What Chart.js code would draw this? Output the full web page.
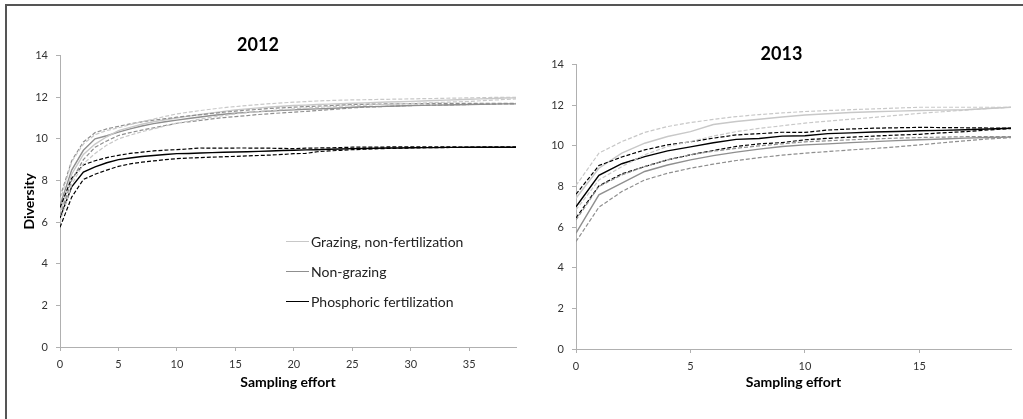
<!DOCTYPE html>
<html>
<head>
<meta charset="utf-8">
<script src="https://cdn.jsdelivr.net/npm/chart.js@4.4.1/dist/chart.umd.min.js"></script>
<style>
  body { margin:0; background:#fff; width:1023px; height:419px; overflow:hidden; position:relative; font-family:Lato, sans-serif; }
  #marco { position:absolute; left:5px; top:4px; width:1040px; height:440px; border-left:2px solid #555; border-top:2px solid #555; }
  #c2012 { position:absolute; left:0; top:0; }
  #c2013 { position:absolute; left:552px; top:0; }
  #leyenda { position:absolute; left:286px; top:226px; font-size:14px; color:#222; }
  .item { height:30px; display:flex; align-items:center; white-space:nowrap; }
  .raya { width:23px; height:0; border-top:1.5px solid #000; margin-right:2px; }
</style>
</head>
<body>
<div id="marco"></div>
<canvas id="c2012" width="552" height="419"></canvas>
<canvas id="c2013" width="470" height="419"></canvas>
<div id="leyenda"></div>

<script>
// ---- datos
const tratamientos = ["Grazing, non-fertilization", "Non-grazing", "Phosphoric fertilization"];
const colores = ["#c8c8c8", "#8f8f8f", "#000000"];

const esfuerzo2012 = [0,1,2,3,4,5,6,7,8,9,10,11,12,13,14,15,16,17,18,19,20,21,22,23,24,25,26,27,28,29,30,31,32,33,34,35,36,37,38,39];
const esfuerzo2013 = [0,1,2,3,4,5,6,7,8,9,10,11,12,13,14,15,16,17,18,19];

// 2012
const pastoreo2012 = [6.5,8.3,9.25,9.75,10.1,10.4,10.55,10.7,10.82,10.92,11.0,11.09,11.17,11.25,11.32,11.39,11.44,11.49,11.53,11.57,11.6,11.62,11.65,11.67,11.69,11.71,11.73,11.75,11.77,11.78,11.8,11.82,11.84,11.86,11.88,11.9,11.92,11.94,11.96,11.97];
const pastoreo2012Sup = [7.0,8.9,9.75,10.2,10.4,10.53,10.68,10.82,10.95,11.08,11.2,11.28,11.36,11.43,11.5,11.55,11.6,11.65,11.69,11.73,11.76,11.79,11.82,11.84,11.86,11.87,11.88,11.89,11.9,11.91,11.92,11.93,11.94,11.95,11.96,11.97,11.98,11.99,12.0,12.0];
const pastoreo2012Inf = [6.0,7.8,8.8,9.3,9.7,10.0,10.18,10.34,10.48,10.62,10.75,10.85,10.95,11.04,11.12,11.2,11.26,11.31,11.36,11.4,11.44,11.48,11.51,11.54,11.57,11.6,11.62,11.64,11.66,11.68,11.7,11.72,11.74,11.76,11.78,11.8,11.83,11.86,11.89,11.92];

const sinPastoreo2012 = [6.8,8.5,9.45,10.0,10.15,10.32,10.48,10.62,10.73,10.82,10.9,10.98,11.05,11.12,11.18,11.23,11.27,11.31,11.34,11.37,11.39,11.42,11.44,11.46,11.49,11.52,11.54,11.55,11.57,11.58,11.6,11.61,11.62,11.63,11.64,11.65,11.66,11.67,11.68,11.68];
const sinPastoreo2012Sup = [7.2,8.95,9.85,10.3,10.48,10.6,10.72,10.82,10.9,10.97,11.04,11.1,11.16,11.22,11.28,11.33,11.38,11.42,11.46,11.49,11.52,11.55,11.57,11.59,11.62,11.65,11.66,11.67,11.68,11.68,11.69,11.69,11.7,11.7,11.7,11.7,11.71,11.71,11.71,11.71];
const sinPastoreo2012Inf = [6.3,8.0,9.0,9.6,9.9,10.16,10.3,10.42,10.53,10.64,10.75,10.82,10.89,10.96,11.02,11.07,11.12,11.17,11.21,11.25,11.28,11.32,11.36,11.4,11.44,11.49,11.52,11.54,11.56,11.58,11.6,11.61,11.62,11.63,11.64,11.65,11.66,11.67,11.68,11.68];

const fosforo2012 = [6.2,7.7,8.4,8.65,8.85,9.0,9.08,9.15,9.2,9.25,9.29,9.3,9.32,9.34,9.36,9.37,9.38,9.4,9.42,9.44,9.45,9.47,9.48,9.5,9.51,9.53,9.54,9.55,9.56,9.56,9.57,9.58,9.58,9.59,9.59,9.6,9.6,9.6,9.6,9.6];
const fosforo2012Sup = [6.7,8.1,8.75,8.95,9.1,9.21,9.3,9.36,9.42,9.46,9.48,9.52,9.56,9.55,9.55,9.56,9.56,9.55,9.55,9.54,9.53,9.55,9.56,9.57,9.58,9.6,9.6,9.6,9.61,9.62,9.62,9.62,9.61,9.61,9.61,9.6,9.6,9.6,9.6,9.6];
const fosforo2012Inf = [5.75,7.2,8.05,8.3,8.5,8.68,8.8,8.88,8.94,9.0,9.05,9.08,9.1,9.12,9.14,9.16,9.18,9.2,9.22,9.25,9.29,9.3,9.38,9.42,9.45,9.48,9.5,9.52,9.54,9.55,9.56,9.57,9.58,9.58,9.59,9.59,9.6,9.6,9.6,9.6];

// 2013
const pastoreo2013 = [7.42,8.9,9.64,10.13,10.46,10.7,11.05,11.2,11.31,11.42,11.52,11.58,11.64,11.68,11.71,11.74,11.76,11.78,11.84,11.9];
const pastoreo2013Sup = [8.05,9.64,10.21,10.66,10.95,11.15,11.3,11.44,11.54,11.62,11.69,11.74,11.78,11.82,11.86,11.9,11.9,11.9,11.9,11.9];
const pastoreo2013Inf = [6.85,8.32,8.98,9.56,9.97,10.21,10.48,10.7,10.86,10.99,11.12,11.22,11.31,11.4,11.5,11.6,11.68,11.76,11.84,11.9];

const sinPastoreo2013 = [5.7,7.59,8.16,8.74,9.06,9.31,9.52,9.69,9.84,9.97,10.05,10.1,10.16,10.21,10.26,10.3,10.34,10.38,10.41,10.43];
const sinPastoreo2013Sup = [6.35,8.0,8.57,8.98,9.31,9.56,9.74,9.88,10.0,10.1,10.2,10.25,10.3,10.34,10.38,10.41,10.43,10.45,10.46,10.46];
const sinPastoreo2013Inf = [5.29,6.98,7.75,8.32,8.65,8.9,9.1,9.28,9.42,9.54,9.64,9.72,9.8,9.87,9.95,10.05,10.15,10.25,10.34,10.41];

const fosforo2013 = [7.0,8.55,9.12,9.47,9.75,9.95,10.15,10.32,10.36,10.48,10.5,10.6,10.64,10.68,10.71,10.74,10.76,10.79,10.83,10.87];
const fosforo2013Sup = [7.62,9.03,9.45,9.8,10.05,10.2,10.38,10.54,10.6,10.67,10.66,10.78,10.83,10.87,10.89,10.91,10.9,10.89,10.88,10.88];
const fosforo2013Inf = [6.45,8.03,8.62,8.98,9.31,9.56,9.77,9.97,10.1,10.16,10.3,10.37,10.43,10.48,10.53,10.57,10.64,10.7,10.78,10.85];

const ticksY = [0,2,4,6,8,10,12,14];

// ---- construccion de datasets
function serie(label, xs, ys, color, punteada) {
    return {
        label: label,
        data: ys.map((v, i) => ({x: xs[i], y: v})),
        borderColor: color,
        borderWidth: punteada ? 1.2 : 1.4,
        borderDash: punteada ? [4, 2] : [],
        pointRadius: 0,
        tension: 0,
        fill: false
    };
}

function grupo(xs, lista) {
    // primero las punteadas, luego las lineas
    const out = [];
    lista.forEach((s, k) => {
        out.push(serie(tratamientos[k] + " sup", xs, s[1], colores[k], true));
        out.push(serie(tratamientos[k] + " inf", xs, s[2], colores[k], true));
    });
    lista.forEach((s, k) => {
        out.push(serie(tratamientos[k], xs, s[0], colores[k], false));
    });
    return out;
}

const fuenteTick = {family: "Lato", size: 11};
const fuenteTitulo = {family: "Lato", size: 14, weight: "bold"};

function opciones(titulo, xMax, cfg) {
    return {
        responsive: false,
        animation: false,
        layout: {padding: {left: 0, right: cfg.derecha, top: 0, bottom: 0}},
        plugins: {
            legend: {display: false},
            tooltip: {enabled: false},
            title: {
                display: true,
                text: titulo,
                color: "#000",
                font: {family: "Lato", size: 18, weight: "bold"},
                padding: {top: cfg.tituloArriba, bottom: 0}
            }
        },
        scales: {
            x: {
                type: "linear",
                min: 0,
                max: xMax,
                grid: {drawOnChartArea: false, drawTicks: true, tickLength: 4, color: "#b0b0b0"},
                border: {color: "#b0b0b0", width: 1},
                ticks: {stepSize: 5, includeBounds: false, padding: 7, color: "#333", font: fuenteTick, maxRotation: 0},
                title: {display: true, text: "Sampling effort", color: "#000", font: fuenteTitulo, padding: {top: 0, bottom: cfg.ejeXAbajo}},
                afterFit: function(s) { s.height = cfg.altoX; }
            },
            y: {
                min: 0,
                max: 14,
                afterBuildTicks: function(s) { s.ticks = ticksY.map(v => ({value: v})); },
                grid: {drawOnChartArea: false, drawTicks: true, tickLength: 4, color: "#b0b0b0"},
                border: {color: "#b0b0b0", width: 1},
                ticks: {padding: 8, color: "#333", font: fuenteTick},
                title: {display: cfg.tituloY, text: "Diversity", color: "#000", font: fuenteTitulo, padding: {top: 20.6, bottom: 0}},
                afterFit: function(s) { s.width = cfg.anchoY; }
            }
        }
    };
}

new Chart(document.getElementById("c2012"), {
    type: "line",
    data: {
        datasets: grupo(esfuerzo2012, [
            [pastoreo2012, pastoreo2012Sup, pastoreo2012Inf],
            [sinPastoreo2012, sinPastoreo2012Sup, sinPastoreo2012Inf],
            [fosforo2012, fosforo2012Sup, fosforo2012Inf]
        ])
    },
    options: opciones("2012", 39, {derecha: 36, tituloArriba: 34, altoX: 72, ejeXAbajo: 28.6, anchoY: 60, tituloY: true})
});

new Chart(document.getElementById("c2013"), {
    type: "line",
    data: {
        datasets: grupo(esfuerzo2013, [
            [pastoreo2013, pastoreo2013Sup, pastoreo2013Inf],
            [sinPastoreo2013, sinPastoreo2013Sup, sinPastoreo2013Inf],
            [fosforo2013, fosforo2013Sup, fosforo2013Inf]
        ])
    },
    options: opciones("2013", 19, {derecha: 11, tituloArriba: 43, altoX: 70, ejeXAbajo: 28.6, anchoY: 24, tituloY: false})
});

// ---- leyenda (solo en el panel 2012)
const leyenda = document.getElementById("leyenda");
tratamientos.forEach((t, k) => {
    const fila = document.createElement("div");
    fila.className = "item";
    fila.innerHTML = '<span class="raya" style="border-top-color:' + colores[k] + '"></span>' + t;
    leyenda.appendChild(fila);
});
</script>
</body>
</html>
